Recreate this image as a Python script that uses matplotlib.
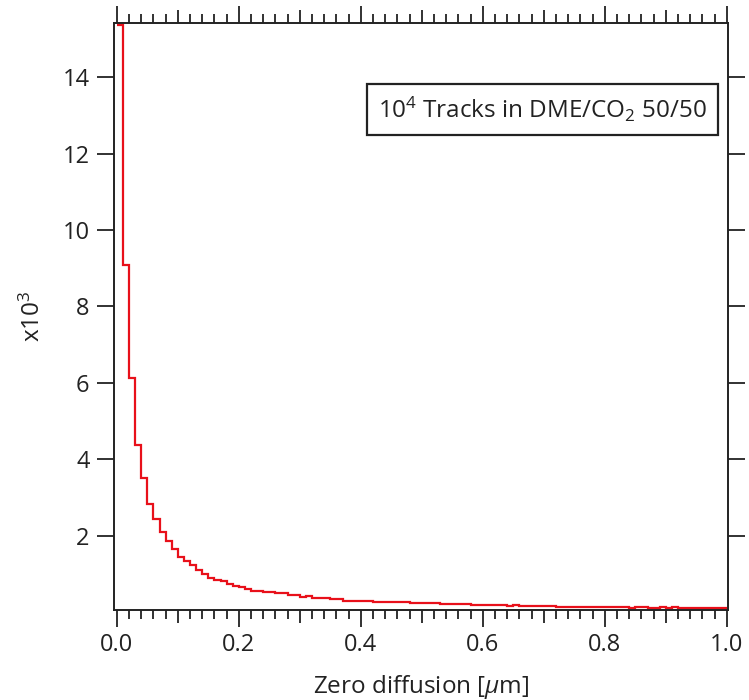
import numpy as np
import matplotlib
matplotlib.use("Agg")
import matplotlib.pyplot as plt
from matplotlib.ticker import MultipleLocator, FuncFormatter

plt.rcParams["font.family"] = ["Open Sans", "DejaVu Sans"]
plt.rcParams["mathtext.fontset"] = "custom"
plt.rcParams["mathtext.rm"] = "Open Sans"
plt.rcParams["mathtext.it"] = "Open Sans:italic"

# histogram counts per 0.01 um bin, in units of 10^3 tracks
bin_width = 0.01
counts = [
    15.36, 9.08, 6.13, 4.37, 3.51, 2.84, 2.44, 2.09, 1.85, 1.65,
    1.43, 1.33, 1.22, 1.11, 1.00, 0.88, 0.85, 0.81, 0.74, 0.69,
    0.65, 0.61, 0.56, 0.56, 0.53, 0.53, 0.50, 0.50, 0.44, 0.44,
    0.39, 0.43, 0.37, 0.36, 0.36, 0.33, 0.33, 0.30, 0.30, 0.29,
    0.28, 0.28, 0.27, 0.27, 0.26, 0.27, 0.25, 0.25, 0.24, 0.24,
    0.23, 0.23, 0.23, 0.22, 0.20, 0.21, 0.21, 0.22, 0.17, 0.18,
    0.17, 0.18, 0.17, 0.17, 0.16, 0.17, 0.16, 0.15, 0.16, 0.15,
    0.15, 0.16, 0.14, 0.13, 0.14, 0.13, 0.12, 0.13, 0.13, 0.12,
    0.12, 0.13, 0.12, 0.12, 0.11, 0.12, 0.12, 0.11, 0.11, 0.12,
    0.11, 0.12, 0.10, 0.11, 0.11, 0.10, 0.11, 0.10, 0.11, 0.11,
]
edges = np.arange(len(counts) + 1) * bin_width

fig = plt.figure(figsize=(7.49, 7.0), dpi=100)
ax = fig.add_axes([0.152, 0.129, 0.820, 0.838])

ax.stairs(counts, edges, baseline=None, color="#e8101a", lw=1.6)

ax.set_xlim(-0.005, 1.002)
ax.set_ylim(0.06, 15.42)

for s in ax.spines.values():
    s.set_linewidth(1.4)
    s.set_color("#222222")

# x axis: majors every 0.1 (labels on 0.2), minors every 0.02
ax.xaxis.set_major_locator(MultipleLocator(0.1))
ax.xaxis.set_minor_locator(MultipleLocator(0.02))
ax.xaxis.set_major_formatter(FuncFormatter(
    lambda v, p: f"{v:.1f}" if round(v * 10) % 2 == 0 else ""))
ax.yaxis.set_major_locator(MultipleLocator(2))
ax.yaxis.set_major_formatter(FuncFormatter(lambda v, p: f"{v:.0f}" if v > 0 else ""))

ax.tick_params(axis="both", which="both", direction="out", width=1.3,
               color="#222222", labelsize=17, labelcolor="#222222")
ax.tick_params(axis="x", which="major", length=12, pad=5, top=True, bottom=True)
ax.tick_params(axis="x", which="minor", length=6.5, top=True, bottom=True)
ax.tick_params(axis="y", which="major", length=12.5, pad=5, left=True, right=True)

fig.canvas.draw()
for t in ax.xaxis.get_major_ticks():
    v = t.get_loc()
    if round(v * 10) % 2 == 1:
        t.tick1line.set_markersize(9.4)
        t.tick2line.set_markersize(9.4)

ax.set_xlabel("Zero diffusion [$\\mu$m]", fontsize=17.5, color="#222222", labelpad=11)
ax.set_ylabel("x10$^3$", fontsize=17.5, color="#222222", labelpad=12)

ax.text(0.966, 0.852, "10$^4$ Tracks in DME/CO$_2$ 50/50", transform=ax.transAxes,
        ha="right", va="center", fontsize=17.5, color="#222222",
        bbox=dict(boxstyle="square,pad=0.45", fc="white", ec="#222222", lw=1.6))

fig.savefig("out.png", dpi=100)
